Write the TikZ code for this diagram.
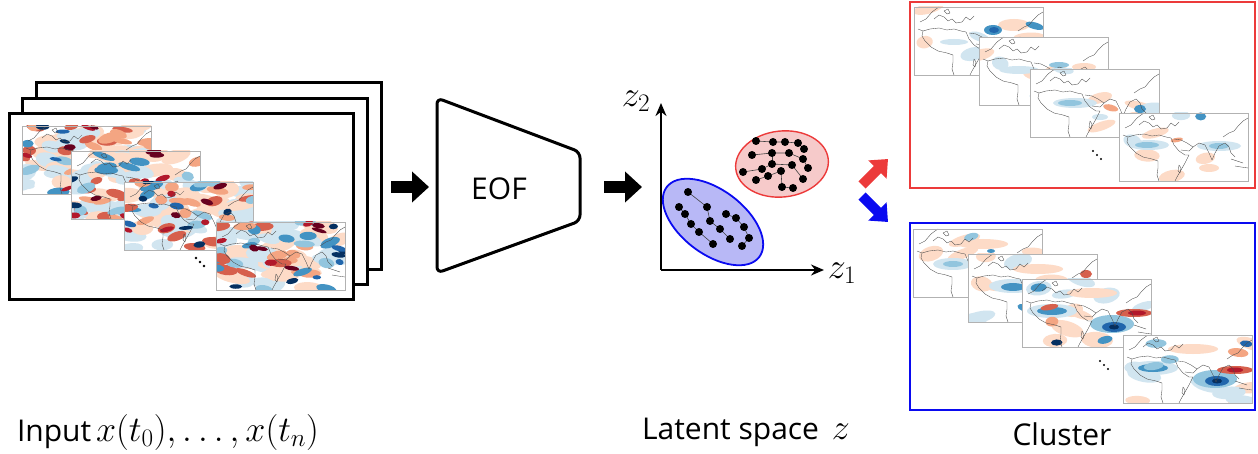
\RequirePackage{fix-cm}
\documentclass[tikz,border=0pt]{standalone}
\usepackage{fontspec}
\setmainfont{Open Sans}
\usetikzlibrary{arrows.meta,shapes.geometric}
\definecolor{pA0}{HTML}{FDDBC7}
\definecolor{pA1}{HTML}{D1E5F0}
\definecolor{pB0}{HTML}{F4A582}
\definecolor{pB1}{HTML}{92C5DE}
\definecolor{pB2}{HTML}{D6604D}
\definecolor{pB3}{HTML}{4393C3}
\definecolor{pC0}{HTML}{B2182B}
\definecolor{pC1}{HTML}{2166AC}
\definecolor{pC2}{HTML}{67001F}
\definecolor{pC3}{HTML}{053061}
\definecolor{clred}{RGB}{236,58,58}
\definecolor{clblue}{RGB}{10,10,240}
\definecolor{elred}{RGB}{246,202,202}
\definecolor{elblue}{RGB}{184,184,246}
\tikzset{
  frame/.style={draw=black, line width=3pt, fill=white},
  mapfill/.style={fill=white, inner sep=0pt, minimum width=129pt, minimum height=68pt, anchor=north west},
  mapborder/.style={draw=black!30, line width=0.8pt},
  coast/.style={draw=black!70, line width=0.35pt, line join=round},
  blockarrow/.style={line width=12pt, -{Triangle[length=17pt,width=30pt]}},
  smallarrow/.style={line width=10pt, -{Triangle[length=15pt,width=25pt]}},
  axis/.style={line width=2.2pt, -{Stealth[length=13pt,width=11pt]}},
  dot/.style={fill=black},
  link/.style={draw=black!75, line width=0.6pt},
  label/.style={font=\fontsize{30}{36}\selectfont, inner sep=0pt},
  zlabel/.style={font=\fontsize{36}{40}\selectfont, inner sep=0pt},
  dotsmark/.style={fill=black},
}
\newcommand\mathbig[1]{{\fontsize{36}{40}\selectfont$#1$}}
\newcommand\blb[5]{\fill[#1] (#2,#3) ellipse [x radius=#4pt, y radius=#5pt];}
\newcommand\blobs[5]{% count, colour prefix, choices, base rx, scale
  \ifnum#1>0
  \foreach \k in {1,...,#1}{%
    \pgfmathsetmacro\bx{rnd*129}%
    \pgfmathsetmacro\by{rnd*68}%
    \pgfmathsetmacro\brx{(#4+rnd*#4)*#5}%
    \pgfmathsetmacro\bry{(#4*0.45+rnd*#4*0.4)*#5}%
    \pgfmathsetmacro\ba{rnd*40-20}%
    \pgfmathtruncatemacro\ci{rnd*#3}%
    \fill[#2\ci, rotate around={\ba:(\bx,\by)}] (\bx,\by) ellipse [x radius=\brx pt, y radius=\bry pt];
  }%
  \fi
}
\newcommand\climmap[9]{% name, x, y, seed, n light, n medium, n dark, scale, extra
  \node[mapfill] (#1) at (#2,#3) {};
  \begin{scope}[shift={(#2,#3)}]
    \begin{scope}
      \clip (0,0) rectangle (129,68);
      \pgfmathsetseed{#4}
      \blobs{#5}{pA}{2}{10}{#8}
      #9
      \blobs{#6}{pB}{4}{6}{#8}
      \blobs{#7}{pC}{4}{4}{#8}
      \draw[coast] (4,22) -- (9,24) -- (16,22) -- (25,21) -- (33,23) -- (40,22) -- (47,24) -- (52,25) -- (55,32) -- (60,38) -- (66,42) -- (70,42) -- (66,50) -- (62,57) -- (58,64) -- (56,68);
      \draw[coast] (9,24) -- (8,29) -- (11,34) -- (17,40) -- (24,44) -- (33,46) -- (39,48) -- (39,55) -- (38,62) -- (40,68);
      \draw[coast] (6,15) -- (12,12) -- (18,5) -- (22,2) -- (25,0);
      \draw[coast] (20,12) -- (25,8) -- (30,10) -- (34,14) -- (38,12) -- (42,16) -- (48,15) -- (52,10) -- (56,13) -- (60,9);
      \draw[coast] (55,26) -- (62,27) -- (68,30) -- (74,34) -- (70,38) -- (62,37);
      \draw[coast] (74,34) -- (80,30) -- (86,32) -- (90,40) -- (93,47) -- (96,40) -- (100,33) -- (106,30) -- (110,34) -- (112,40) -- (116,44);
      \draw[coast] (104,24) -- (110,20) -- (115,18) -- (120,12) -- (124,8) -- (129,5);
      \draw[coast] (112,46) -- (118,48) -- (124,50);
      \draw[coast] (116,53) -- (122,54) -- (129,55);
      \draw[coast] (60,52) -- (62,55) -- (61,60) -- (59,58) -- cycle;
      \draw[coast] (30,4) -- (34,2) -- (36,6) -- (33,7) -- cycle;
    \end{scope}
    \draw[mapborder] (0,0) rectangle (129,68);
  \end{scope}
}
\begin{document}
\begin{tikzpicture}[x=1pt,y=-1pt]
\useasboundingbox (0,0) rectangle (1258,454);

% ---------------- input stack ----------------
\node[frame, anchor=north west, minimum width=345pt, minimum height=187pt, inner sep=0pt] (back) at (35,81) {};
\node[frame, anchor=north west, minimum width=345pt, minimum height=186pt, inner sep=0pt] (mid) at (21,97) {};
\node[frame, anchor=north west, minimum width=344pt, minimum height=186pt, inner sep=0pt] (front) at (8,112) {};
\climmap{in1}{22}{126}{11}{45}{30}{14}{1}{}
\climmap{in2}{71}{151}{23}{45}{30}{14}{1}{}
\climmap{in3}{124}{182}{37}{45}{32}{16}{1}{}
\climmap{in4}{216}{222}{41}{45}{32}{16}{1}{}
\fill[dotsmark] (196,258) circle [radius=1.3pt] (200,262) circle [radius=1.3pt] (204,266) circle [radius=1.3pt];

% ---------------- EOF ----------------
\draw[line width=3pt, rounded corners=6pt, fill=white] (437,98) -- (580,152) -- (580,221) -- (437,273) -- cycle;
\node[label] (eof) at (499,189) {EOF};
\coordinate (a1s) at (391,187);
\coordinate (a1e) at (429,187);
\draw[blockarrow] (a1s) -- (a1e);
\coordinate (a2s) at (604,187);
\coordinate (a2e) at (642,187);
\draw[blockarrow] (a2s) -- (a2e);

% ---------------- latent space ----------------
\coordinate (O) at (661,270);
\coordinate (ytop) at (661,103);
\coordinate (xend) at (824,270);
\node[ellipse, draw=clblue, fill=elblue, line width=1.8pt, minimum width=116pt, minimum height=64pt, inner sep=0pt, rotate=-37] (blueC) at (713,222) {};
\node[ellipse, draw=clred, fill=elred, line width=1.4pt, minimum width=93pt, minimum height=66pt, inner sep=0pt, rotate=6] (redC) at (782,164) {};
\draw[axis] (O) -- (ytop);
\draw[axis] (O) -- (xend);
\node[zlabel] (z2) at (636,101) {$z_2$};
\node[zlabel] (z1) at (842,273) {$z_1$};

% blue cluster points
\foreach \n/\p in {1/{688,192},2/{679,207},3/{707,207},4/{685,214},5/{726,214},6/{736,218},7/{691,224},8/{710,221},9/{744,227},10/{720,229},11/{699,232},12/{749,238},13/{730,239},14/{713,244},15/{742,246}}
  \coordinate (b\n) at (\p);
\draw[link] (b1) -- (b3);
\draw[link] (b2) -- (b4) -- (b7) -- (b11) -- (b14);
\draw[link] (b3) -- (b8) -- (b10) -- (b13);
\draw[link] (b5) -- (b6) -- (b9) -- (b12) -- (b15);
\foreach \n in {1,...,15} \fill[dot] (b\n) circle [radius=4pt];

% red cluster points
\foreach \n/\p in {1/{756,141},2/{773,142},3/{785,142},4/{798,143},5/{804,149},6/{752,155},7/{772,153},8/{789,153},9/{803,159},10/{792,165},11/{772,164},12/{808,168},13/{743,172},14/{762,169},15/{781,171},16/{768,176},17/{756,180},18/{803,179},19/{782,187},20/{793,188}}
  \coordinate (r\n) at (\p);
\draw[link] (r1) -- (r2) -- (r3) -- (r4) -- (r5);
\draw[link] (r6) -- (r7) -- (r8) -- (r9) -- (r12);
\draw[link] (r13) -- (r14) -- (r11) -- (r10) -- (r18);
\draw[link] (r17) -- (r16) -- (r15) -- (r19) -- (r20);
\draw[link] (r7) -- (r11);
\foreach \n in {1,...,20} \fill[dot] (r\n) circle [radius=4pt];

% red / blue arrows
\coordinate (ras) at (862,185);
\coordinate (rae) at (888,159);
\draw[smallarrow, draw=clred, fill=clred] (ras) -- (rae);
\coordinate (bas) at (862,196);
\coordinate (bae) at (888,222);
\draw[smallarrow, draw=clblue, fill=clblue] (bas) -- (bae);

% ---------------- clusters ----------------
\node[draw=clred, line width=2pt, anchor=north west, minimum width=345pt, minimum height=186pt, inner sep=0pt] (redbox) at (909,1) {};
\climmap{c1}{914}{7}{51}{6}{1}{0}{0.8}{\blb{pA0}{100}{18}{16}{6}\blb{pB3}{79}{23}{9}{5}\blb{pC1}{80}{23}{5}{3}\blb{pA1}{40}{35}{14}{3}}
\climmap{c2}{979}{37}{62}{6}{1}{0}{0.8}{\blb{pA1}{40}{33}{20}{4}\blb{pB1}{80}{28}{10}{3}\blb{pA0}{105}{30}{12}{4}}
\climmap{c3}{1030}{69}{73}{6}{2}{0}{0.8}{\blb{pA1}{45}{34}{22}{5}\blb{pB1}{40}{34}{12}{3}\blb{pB3}{110}{40}{6}{4}\blb{pA1}{70}{48}{8}{3}}
\climmap{c4}{1119}{113}{84}{6}{2}{0}{0.8}{\blb{pA1}{30}{32}{20}{5}\blb{pB1}{28}{32}{12}{3}\blb{pA1}{100}{33}{22}{5}\blb{pB1}{100}{33}{10}{3}\blb{pA0}{90}{55}{10}{4}}
\fill[dotsmark] (1093,151) circle [radius=1.1pt] (1097,155) circle [radius=1.1pt] (1101,159) circle [radius=1.1pt];

\node[draw=clblue, line width=2pt, anchor=north west, minimum width=345pt, minimum height=187pt, inner sep=0pt] (bluebox) at (909,222) {};
\climmap{d1}{913}{229}{95}{8}{2}{0}{0.85}{\blb{pA1}{40}{35}{20}{6}\blb{pB1}{40}{35}{10}{3}\blb{pB3}{78}{22}{4}{2}\blb{pA0}{70}{15}{25}{5}}
\climmap{d2}{968}{254}{106}{9}{3}{0}{0.9}{\blb{pA1}{45}{32}{24}{7}\blb{pB3}{45}{33}{12}{4}\blb{pB2}{118}{20}{6}{4}\blb{pA0}{70}{15}{25}{5}}
\climmap{d3}{1022}{279}{117}{10}{4}{1}{0.95}{\blb{pA1}{30}{32}{25}{7}\blb{pB3}{30}{32}{15}{4}\blb{pB1}{90}{45}{22}{9}\blb{pC1}{92}{48}{12}{5}\blb{pC3}{92}{48}{5}{2.5}\blb{pB2}{112}{34}{18}{4}\blb{pC0}{115}{34}{9}{2.5}\blb{pA0}{70}{14}{25}{5}}
\climmap{d4}{1123}{335}{128}{10}{4}{1}{0.95}{\blb{pA1}{30}{33}{25}{7}\blb{pB3}{30}{33}{15}{4}\blb{pB1}{92}{44}{22}{9}\blb{pC1}{94}{46}{12}{5}\blb{pC3}{94}{46}{5}{2.5}\blb{pB2}{112}{35}{18}{4}\blb{pC0}{112}{35}{8}{2.5}\blb{pA0}{70}{14}{25}{5}}
\fill[dotsmark] (1100,361) circle [radius=1.1pt] (1104,365) circle [radius=1.1pt] (1108,369) circle [radius=1.1pt];

% ---------------- captions ----------------
\node[label] (capin) at (168,432) {Input\,\mathbig{x(t_0),\ldots,x(t_n)}};
\node[label] (caplat) at (746,432) {Latent space \,\mathbig{z}};
\node[label] (capcl) at (1062,434) {Cluster};
\end{tikzpicture}
\end{document}
